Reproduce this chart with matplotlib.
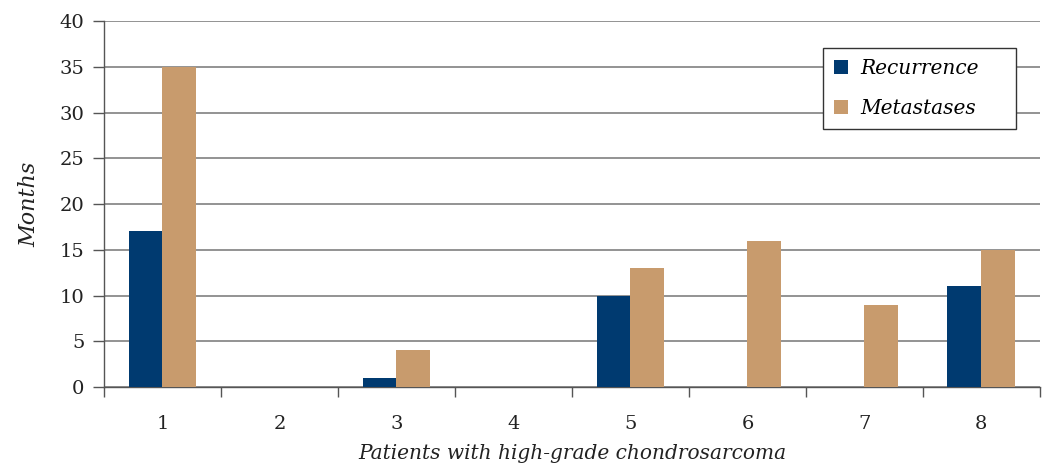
import matplotlib.pyplot as plt
import numpy as np

patients = ["1", "2", "3", "4", "5", "6", "7", "8"]
recurrence = [17, 0, 1, 0, 10, 0, 0, 11]
metastases = [35, 0, 4, 0, 13, 16, 9, 15]

plt.rcParams["font.family"] = ["DejaVu Serif"]

fig = plt.figure(figsize=(10.42, 4.68), dpi=100)
ax = fig.add_axes([0.0998, 0.173, 0.8982, 0.782])

x = np.arange(len(patients))
w = 0.29
ax.bar(x - w/2, recurrence, w, color="#003a70", label="Recurrence", zorder=3)
ax.bar(x + w/2, metastases, w, color="#c89b6d", label="Metastases", zorder=3)

ax.set_xlim(-0.5, len(patients) - 0.5)
ax.set_ylim(0, 40)
ax.set_yticks(range(0, 41, 5))
ax.set_xticks(x)
ax.set_xticklabels(patients)
ax.set_xticks(np.arange(-0.5, len(patients)), minor=True)
ax.tick_params(axis="x", which="major", length=0, pad=20, labelsize=14, colors="#222222")
ax.tick_params(axis="x", which="minor", length=7, width=1, color="#555555")
ax.tick_params(axis="y", length=8, width=1, color="#555555", labelsize=14,
               labelcolor="#222222", pad=6)

ax.yaxis.grid(True, color="#808080", linewidth=1.2, zorder=0)
for s in ["top", "right"]:
    ax.spines[s].set_visible(False)
for s in ["left", "bottom"]:
    ax.spines[s].set_color("#555555")
    ax.spines[s].set_linewidth(1)

ax.set_xlabel("Patients with high-grade chondrosarcoma", fontsize=14.5, style="italic",
              labelpad=8, color="#222222")
ax.set_ylabel("Months", fontsize=16, style="italic", labelpad=14, color="#222222")

leg = ax.legend(loc="upper left", bbox_to_anchor=(0.768, 0.926, 0.206, 0.0), mode="expand",
                prop={"style": "italic", "size": 14.5}, frameon=True, fancybox=False,
                edgecolor="#333333", framealpha=1, handlelength=0.7, handleheight=0.7,
                borderpad=0.55, labelspacing=1.05, handletextpad=0.6, borderaxespad=0)
leg.get_frame().set_linewidth(1)

plt.savefig("out.png", dpi=100)
